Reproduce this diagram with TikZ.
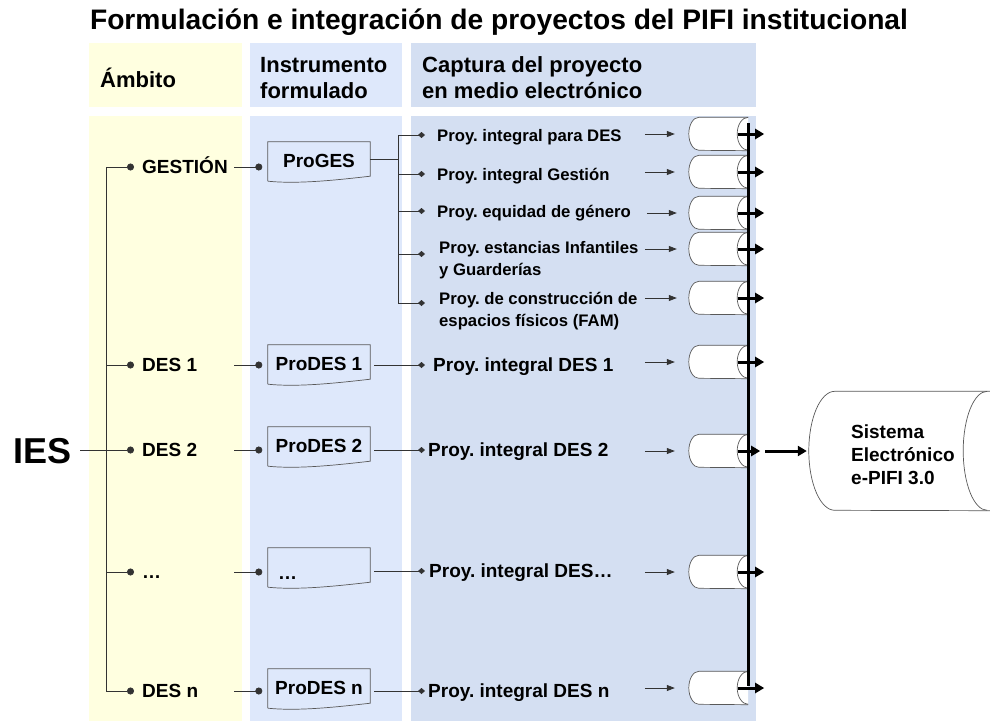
\documentclass[tikz,border=0pt]{standalone}
\usepackage{fontspec}
\setmainfont{Liberation Sans}
\usepackage{tikz}
\usetikzlibrary{arrows.meta}
\frenchspacing
\definecolor{ambcol}{RGB}{255,255,224}
\definecolor{inscol}{RGB}{222,232,251}
\definecolor{capcol}{RGB}{212,223,242}
\tikzstyle{title} = [font=\fontsize{28.2}{32}\selectfont\bfseries, inner sep=0pt]
\tikzstyle{head} = [font=\fontsize{22}{26}\selectfont\bfseries, align=left, anchor=west, inner sep=0pt]
\tikzstyle{ambito} = [font=\fontsize{19}{23}\selectfont\bfseries, anchor=west, inner sep=0pt, text height=13.6pt, text depth=0pt]
\tikzstyle{proy} = [ambito]
\tikzstyle{proysub} = [font=\fontsize{16.7}{22}\selectfont\bfseries, anchor=west, inner sep=0pt, text height=12pt, text depth=0pt]
\tikzstyle{proysubtwo} = [font=\fontsize{16.7}{22}\selectfont\bfseries, align=left, anchor=west, inner sep=0pt]
\tikzstyle{systext} = [font=\fontsize{19}{23}\selectfont\bfseries, align=left, anchor=west, inner sep=0pt]
\tikzstyle{outline} = [draw=black!65, line width=0.7pt]
\tikzstyle{doc} = [rectangle, minimum width=102pt, minimum height=34pt, inner sep=0pt,
  font=\fontsize{19}{23}\selectfont\bfseries, text height=13.6pt, text depth=0pt,
  append after command={\pgfextra{\let\dn\tikzlastnode
    \draw[outline] ([yshift=-3pt]\dn.south west) -- ([yshift=2pt]\dn.north west) -- ([yshift=2pt]\dn.north east) -- ([yshift=2pt]\dn.south east)
      .. controls +(-35pt,-4pt) and +(30pt,-3pt) .. ([yshift=-3pt]\dn.south west);}}]
\tikzstyle{store} = [rectangle, minimum width=59pt, minimum height=33pt, inner sep=0pt,
  append after command={\pgfextra{\let\sn\tikzlastnode
    \draw[outline, fill=white] (\sn.north east) -- ([xshift=10pt]\sn.north west)
      arc[start angle=90, end angle=270, x radius=10pt, y radius=16.5pt] -- (\sn.south east);
    \draw[outline] (\sn.north east) arc[start angle=90, end angle=270, x radius=11pt, y radius=16.5pt];}}]
\tikzstyle{bigstore} = [rectangle, minimum width=178pt, minimum height=119pt, inner sep=0pt,
  append after command={\pgfextra{\let\bn\tikzlastnode
    \draw[outline, fill=white] ([xshift=4pt]\bn.north east) -- ([xshift=26pt]\bn.north west)
      arc[start angle=90, end angle=270, x radius=26pt, y radius=59.5pt] -- ([xshift=4pt]\bn.south east);
    \draw[outline] (\bn.north east) arc[start angle=90, end angle=270, x radius=24pt, y radius=59.5pt];}}]
\tikzstyle{line} = [draw=black!80, line width=0.8pt]
\tikzstyle{dotline} = [line, -{Circle[length=7pt]}, shorten >=8pt]
\tikzstyle{dotlinetwo} = [line, -{Circle[length=7pt]}, shorten >=5.5pt]
\tikzstyle{diamline} = [line, -{Diamond[length=7pt,width=6pt]}]
\tikzstyle{arrow} = [line, -{Triangle[length=8pt,width=6pt]}]
\tikzstyle{thickarrow} = [line width=3pt, -{Triangle[length=9pt,width=10pt]}]
\tikzstyle{bus} = [line width=3pt]

\begin{document}
\begin{tikzpicture}[x=1pt, y=-1pt]
  \useasboundingbox (0,0) rectangle (990,723);
  % columns
  \fill[ambcol] (89,43) rectangle (242,107);
  \fill[inscol] (250,43) rectangle (402,107);
  \fill[capcol] (411,43) rectangle (756,107);
  \fill[ambcol] (89,116) rectangle (242,721);
  \fill[inscol] (250,116) rectangle (402,721);
  \fill[capcol] (411,116) rectangle (756,721);

  \node (title) [title] at (499,22) {Formulación e integración de proyectos del PIFI institucional};
  \node (hamb) [head] at (100,78) {Ámbito};
  \node (hins) [head] at (260,78) {Instrumento\\formulado};
  \node (hcap) [head] at (422,78) {Captura del proyecto\\en medio electrónico};

  % ambito
  \node (ies) [ambito, font=\fontsize{36}{40}\selectfont\bfseries, text height=26pt] at (13,450) {IES};
  \node (ages) [ambito] at (142,167) {GESTIÓN};
  \node (ades1) [ambito] at (142,365) {DES 1};
  \node (ades2) [ambito] at (142,450) {DES 2};
  \node (adots) [ambito] at (142,572) {…};
  \node (adesn) [ambito] at (142,691) {DES n};

  % instrumento formulado
  \node (pges) [doc] at (319,161) {ProGES};
  \node (pdes1) [doc] at (319,364) {ProDES 1};
  \node (pdes2) [doc] at (319,446) {ProDES 2};
  \node (pdots) [doc] at (319,567) {\makebox[82pt][l]{\raisebox{-6pt}{…}}};
  \node (pdesn) [doc] at (319,688) {ProDES n};

  % captura
  \node (s1) [proysub] at (437,135) {Proy. integral para DES};
  \node (s2) [proysub] at (437,174) {Proy. integral Gestión};
  \node (s3) [proysub] at (437,211) {Proy. equidad de género};
  \node (s4) [proysubtwo] at (439,260) {Proy. estancias Infantiles\\y Guarderías};
  \node (s5) [proysubtwo] at (439,311) {Proy. de construcción de\\espacios físicos (FAM)};
  \node (p1) [proy] at (433,365) {Proy. integral DES 1};
  \node (p2) [proy] at (428,450) {Proy. integral DES 2};
  \node (p3) [proy] at (429,571) {Proy. integral DES…};
  \node (pn) [proy] at (428,691) {Proy. integral DES n};

  \node (c1) [store] at (718.5,134) {};
  \node (c2) [store] at (718.5,172) {};
  \node (c3) [store] at (718.5,213) {};
  \node (c4) [store] at (718.5,249) {};
  \node (c5) [store] at (718.5,298) {};
  \node (c6) [store] at (718.5,362) {};
  \node (c7) [store] at (718.5,451) {};
  \node (c8) [store] at (718.5,572) {};
  \node (c9) [store] at (718.5,688) {};

  \node (sis) [bigstore] at (898,451) {};
  \node (sistxt) [systext] at (851,455) {Sistema\\Electrónico\\e-PIFI 3.0};

  \coordinate (tr) at (106,0);
  \coordinate (lx) at (234,0);
  \coordinate (brk) at (398,0);
  \coordinate (s4d) at ([yshift=6pt]s4.west);
  \coordinate (s5d) at ([yshift=8pt]s5.west);
  \coordinate (bustop) at (748,123);
  \coordinate (busbot) at (748,686);

  % IES tree
  \draw [line] (tr |- ages.west) -- (tr |- adesn.west);
  \draw [dotline] (tr |- ages.west) -- (ages.west);
  \draw [dotline] (tr |- ades1.west) -- (ades1.west);
  \draw [dotline] ([xshift=9pt]ies.east) -- (ades2.west);
  \draw [dotline] (tr |- adots.west) -- (adots.west);
  \draw [dotline] (tr |- adesn.west) -- (adesn.west);

  % ambito to instrumento
  \draw [dotlinetwo] (lx |- ages.west) -- (ages.west -| pges.west);
  \draw [dotlinetwo] (lx |- ades1.west) -- (ades1.west -| pdes1.west);
  \draw [dotlinetwo] (lx |- ades2.west) -- (ades2.west -| pdes2.west);
  \draw [dotlinetwo] (lx |- adots.west) -- (adots.west -| pdots.west);
  \draw [dotlinetwo] (lx |- adesn.west) -- (adesn.west -| pdesn.west);

  % instrumento to captura
  \draw [line] ([yshift=2pt]pges.east) -- ([yshift=2pt]pges.east -| brk);
  \draw [line] (brk |- s1.west) -- (brk |- s5d);
  \draw [diamline, shorten >=12pt] (brk |- s1.west) -- (s1.west);
  \draw [diamline, shorten >=12pt] (brk |- s2.west) -- (s2.west);
  \draw [diamline, shorten >=12pt] (brk |- s3.west) -- (s3.west);
  \draw [diamline, shorten >=14pt] (brk |- s4d) -- (s4d);
  \draw [diamline, shorten >=14pt] (brk |- s5d) -- (s5d);
  \draw [diamline, shorten <=4pt, shorten >=8pt] (pdes1.east |- p1.west) -- (p1.west);
  \draw [diamline, shorten <=4pt, shorten >=3pt] (pdes2.east |- p2.west) -- (p2.west);
  \draw [diamline, shorten <=4pt, shorten >=4pt] (pdots.east |- p3.west) -- (p3.west);
  \draw [diamline, shorten <=4pt, shorten >=3pt] (pdesn.east |- pn.west) -- (pn.west);

  % captura to stores
  \draw [arrow] ([xshift=-44pt]c1.west) -- ([xshift=-14pt]c1.west);
  \draw [arrow] ([xshift=-44pt]c2.west) -- ([xshift=-14pt]c2.west);
  \draw [arrow] ([xshift=-42pt]c3.west) -- ([xshift=-12pt]c3.west);
  \draw [arrow] ([xshift=-44pt]c4.west) -- ([xshift=-12pt]c4.west);
  \draw [arrow] ([xshift=-44pt]c5.west) -- ([xshift=-12pt]c5.west);
  \draw [arrow] ([xshift=-44pt]c6.west) -- ([xshift=-14pt]c6.west);
  \draw [arrow] ([xshift=-44pt]c7.west) -- ([xshift=-14pt]c7.west);
  \draw [arrow] ([xshift=-44pt]c8.west) -- ([xshift=-14pt]c8.west);
  \draw [arrow] ([xshift=-44pt]c9.west) -- ([xshift=-14pt]c9.west);

  % bus to e-PIFI
  \draw [bus] (bustop) -- (busbot);
  \draw [thickarrow] ([xshift=-10pt]c1.east) -- ([xshift=16pt]c1.east);
  \draw [thickarrow] ([xshift=-10pt]c2.east) -- ([xshift=16pt]c2.east);
  \draw [thickarrow] ([xshift=-10pt]c3.east) -- ([xshift=16pt]c3.east);
  \draw [thickarrow] ([xshift=-10pt]c4.east) -- ([xshift=16pt]c4.east);
  \draw [thickarrow] ([xshift=-10pt]c5.east) -- ([xshift=16pt]c5.east);
  \draw [thickarrow] ([xshift=-10pt]c6.east) -- ([xshift=16pt]c6.east);
  \draw [thickarrow] ([xshift=-10pt]c7.east) -- ([xshift=12pt]c7.east);
  \draw [thickarrow] ([xshift=-10pt]c8.east) -- ([xshift=16pt]c8.east);
  \draw [thickarrow] ([xshift=-10pt]c9.east) -- ([xshift=16pt]c9.east);
  \draw [thickarrow, shorten >=2pt] ([xshift=17pt]c7.east) -- (sis.west);
\end{tikzpicture}
\end{document}
